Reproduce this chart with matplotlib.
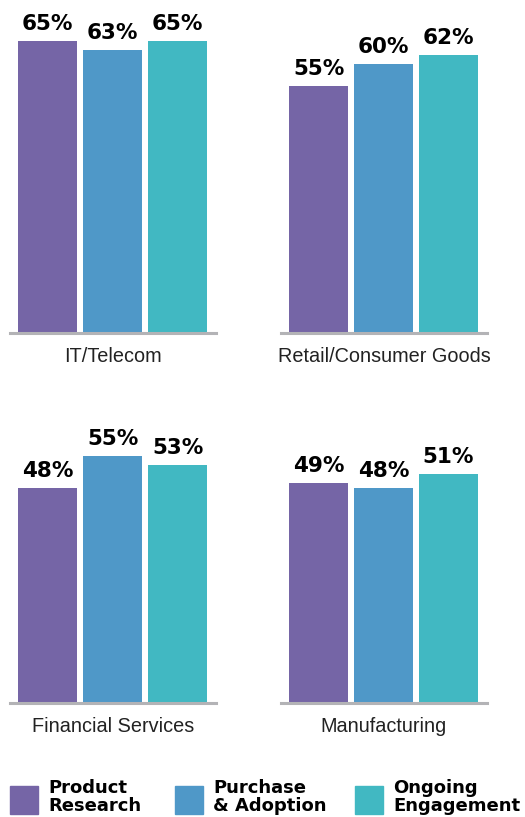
import matplotlib
matplotlib.use("Agg")
import matplotlib.pyplot as plt
from matplotlib.patches import Rectangle

industries = ["IT/Telecom", "Retail/Consumer Goods", "Financial Services", "Manufacturing"]
stages = ["Product\nResearch", "Purchase\n& Adoption", "Ongoing\nEngagement"]
product_research = [65, 55, 48, 49]
purchase_adoption = [63, 60, 55, 48]
ongoing_engagement = [65, 62, 53, 51]

colors = ["#7565A6", "#4F98C8", "#41B8C2"]

W, H = 525, 817
fig = plt.figure(figsize=(W / 100, H / 100), dpi=100)

# panel boxes in pixels: (left, baseline y from top)
panels = [(10, 333), (281, 333), (10, 703), (281, 703)]
ax_w, ax_h = 206, 314
ymax = 70

for k, (name, (px, py)) in enumerate(zip(industries, panels)):
    ax = fig.add_axes([px / W, (H - py) / H, ax_w / W, ax_h / H])
    vals = [product_research[k], purchase_adoption[k], ongoing_engagement[k]]
    bars = ax.bar(range(3), vals, width=0.908, color=colors)
    ax.set_xlim(-0.577, 2.592)
    ax.set_ylim(0, ymax)
    for b, v in zip(bars, vals):
        ax.text(b.get_x() + b.get_width() / 2, v + 1.6, f"{v}%",
                ha="center", va="bottom", fontsize=15.5, fontweight="bold",
                family="DejaVu Sans", clip_on=False)
    ax.axhline(0, color="#b3b3b6", lw=2.2, clip_on=False)
    for s in ax.spines.values():
        s.set_visible(False)
    ax.set_xticks([])
    ax.set_yticks([])
    fig.text((px + ax_w / 2) / W, (H - py - 24) / H, name, ha="center", va="center",
             fontsize=14.3, family="Liberation Sans", color="#222222")

# legend
leg_x = [10, 175, 355]
for x, lab, c in zip(leg_x, stages, colors):
    fig.add_artist(Rectangle((x / W, (H - 814) / H), 28 / W, 28 / H,
                             transform=fig.transFigure, color=c))
    fig.text((x + 38) / W, (H - 797) / H, lab, ha="left", va="center",
             fontsize=13, fontweight="bold", family="DejaVu Sans", linespacing=1.02)

fig.savefig("out.png", dpi=100)
